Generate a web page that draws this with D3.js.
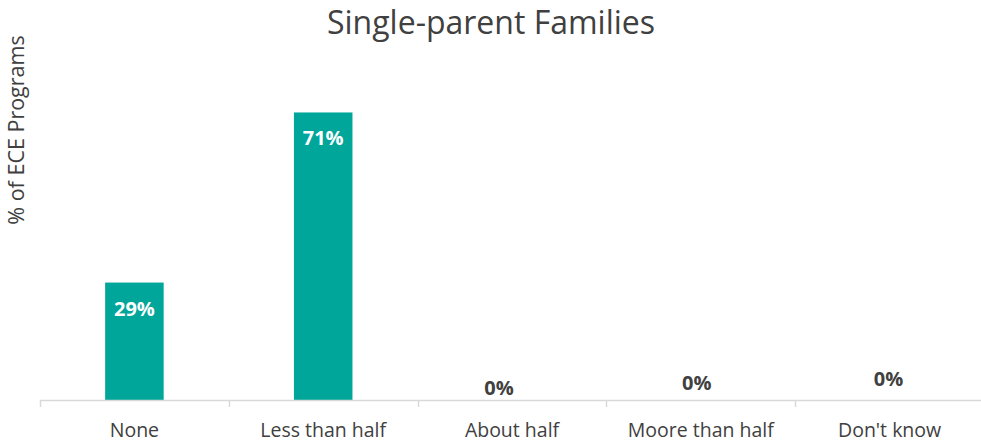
<!DOCTYPE html>
<html>
<head>
<meta charset="utf-8">
<script src="https://cdn.jsdelivr.net/npm/d3@7"></script>
<style>
  html, body { margin: 0; padding: 0; background: #fff; }
  svg text { font-family: "Open Sans", "Noto Sans", sans-serif; }
</style>
</head>
<body>
<svg id="chart" width="981" height="443"></svg>
<script>
const title = "Single-parent Families";
const yAxisTitle = "% of ECE Programs";
const categories = ["None", "Less than half", "About half", "Moore than half", "Don't know"];
const values = [29, 71, 0, 0, 0];
const valueLabels = ["29%", "71%", "0%", "0%", "0%"];
const yDomain = [0, 80];

const W = 981, H = 443;
const margin = { left: 40, right: -3, top: 76, bottom: 43 };
const svg = d3.select("#chart");
const textColor = "#404040";
const barColor = "#00A69A";

const x = d3.scaleBand()
  .domain(categories)
  .range([margin.left, W - margin.right])
  .paddingInner(0.69)
  .paddingOuter(0.345);

const xOuter = d3.scaleBand()
  .domain(categories)
  .range([margin.left, W - margin.right])
  .padding(0);

const y = d3.scaleLinear().domain(yDomain).range([H - margin.bottom, margin.top]);

// bars
svg.append("g").selectAll("rect")
  .data(categories)
  .join("rect")
  .attr("x", d => x(d))
  .attr("width", x.bandwidth())
  .attr("y", (d, i) => y(values[i]))
  .attr("height", (d, i) => y(0) - y(values[i]))
  .attr("fill", barColor);

// axis line + ticks at category boundaries
const axisG = svg.append("g").attr("transform", `translate(0,${y(0)})`);
axisG.append("line")
  .attr("x1", margin.left).attr("x2", W)
  .attr("y1", 0.5).attr("y2", 0.5)
  .attr("stroke", "#d9d9d9").attr("stroke-width", 1.5);
const boundaries = categories.map(c => xOuter(c));
axisG.selectAll("line.tick")
  .data(boundaries)
  .join("line")
  .attr("class", "tick")
  .attr("x1", d => Math.round(d) + 0.5).attr("x2", d => Math.round(d) + 0.5)
  .attr("y1", 0).attr("y2", 7)
  .attr("stroke", "#d9d9d9").attr("stroke-width", 1.5);

// category labels
svg.append("g").selectAll("text")
  .data(categories)
  .join("text")
  .attr("x", d => xOuter(d) + xOuter.bandwidth() / 2)
  .attr("y", H - 6)
  .attr("text-anchor", "middle")
  .attr("font-size", 19.5)
  .attr("fill", textColor)
  .text(d => d);

// value labels
const zeroShift = [0, 0, -13, -4, -1];
const zeroLift = [0, 0, 5, 10, 14];
svg.append("g").selectAll("text")
  .data(categories)
  .join("text")
  .attr("x", (d, i) => x(d) + x.bandwidth() / 2 + zeroShift[i])
  .attr("y", (d, i) => values[i] > 0 ? y(values[i]) + 33 : y(0) - zeroLift[i])
  .attr("text-anchor", "middle")
  .attr("font-size", 20)
  .attr("font-weight", "bold")
  .attr("fill", (d, i) => values[i] > 0 ? "#ffffff" : textColor)
  .text((d, i) => valueLabels[i]);

// title
svg.append("text")
  .attr("x", 491).attr("y", 34)
  .attr("text-anchor", "middle")
  .attr("font-size", 32)
  .attr("fill", textColor)
  .text(title);

// y axis title
svg.append("text")
  .attr("transform", "translate(24,130) rotate(-90)")
  .attr("text-anchor", "middle")
  .attr("font-size", 21.5)
  .attr("fill", textColor)
  .text(yAxisTitle);
</script>
</body>
</html>
